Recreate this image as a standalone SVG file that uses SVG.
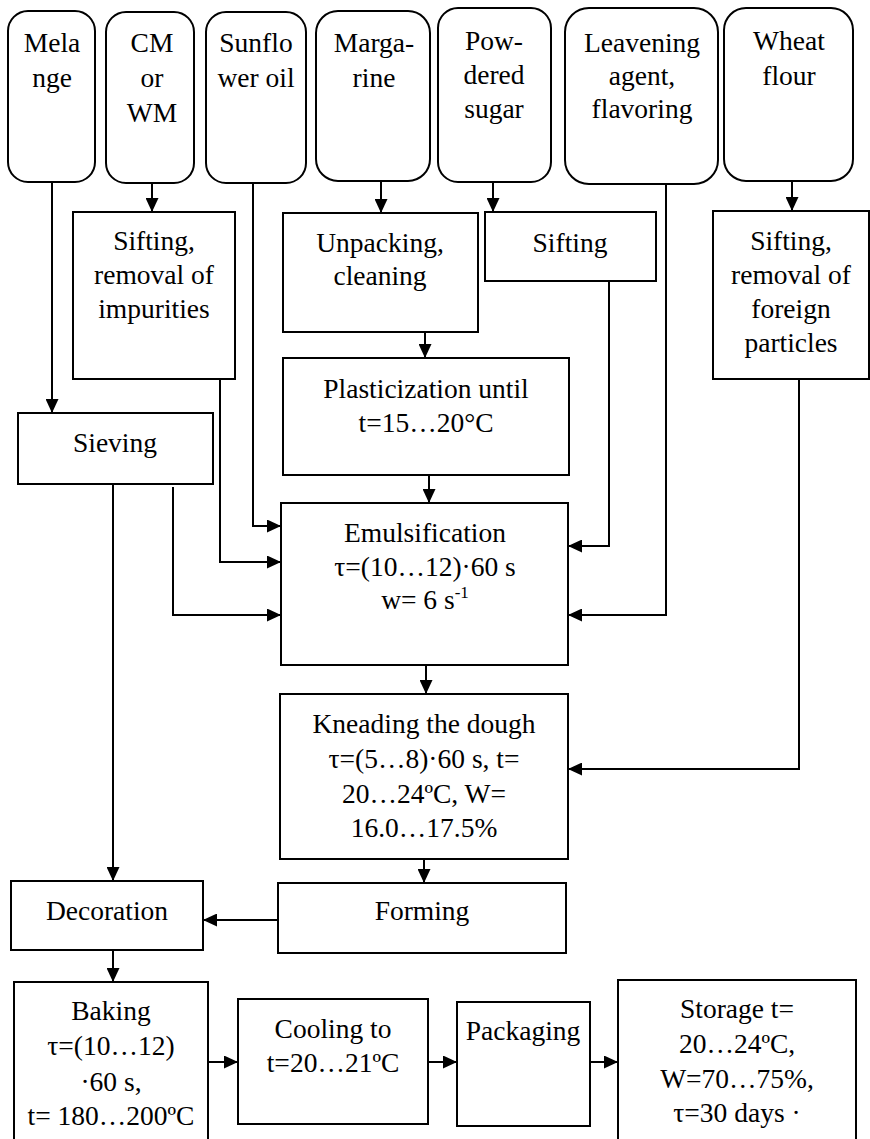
<svg xmlns="http://www.w3.org/2000/svg" width="870" height="1139" viewBox="0 0 870 1139">
<style>
.b{fill:#fff;stroke:#000;stroke-width:2}
.t{font-size:27.5px;fill:#000;text-anchor:middle}
.c{fill:none;stroke:#000;stroke-width:2;marker-end:url(#a)}
</style>
<defs>
<marker id="a" markerUnits="userSpaceOnUse" markerWidth="14" markerHeight="13" refX="14" refY="6.5" orient="auto">
<path d="M0,0 L14,6.5 L0,13 z" fill="#000"/>
</marker>
</defs>
<rect width="870" height="1139" fill="#fff"/>
<g font-family="Liberation Serif, Times New Roman, serif">
<g id="melange"><rect class="b" x="8" y="11" width="87" height="171" rx="20"/><text class="t"><tspan x="52" y="52">Mela</tspan><tspan x="52" y="87">nge</tspan></text></g>
<g id="cmwm"><rect class="b" x="106" y="12" width="88" height="171" rx="20"/><text class="t"><tspan x="152" y="52">CM</tspan><tspan x="152" y="87">or</tspan><tspan x="152" y="122">WM</tspan></text></g>
<g id="sunflower"><rect class="b" x="206" y="12" width="100" height="171" rx="20"/><text class="t"><tspan x="256" y="52">Sunflo</tspan><tspan x="256" y="87">wer oil</tspan></text></g>
<g id="margarine"><rect class="b" x="316" y="11" width="114" height="170" rx="22"/><text class="t"><tspan x="374" y="52">Marga-</tspan><tspan x="374" y="87">rine</tspan></text></g>
<g id="sugar"><rect class="b" x="438" y="8" width="113" height="174" rx="20"/><text class="t"><tspan x="494" y="50">Pow-</tspan><tspan x="494" y="84">dered</tspan><tspan x="494" y="118">sugar</tspan></text></g>
<g id="leavening"><rect class="b" x="565" y="8" width="153" height="176" rx="24"/><text class="t"><tspan x="642" y="52">Leavening</tspan><tspan x="642" y="85">agent,</tspan><tspan x="642" y="118">flavoring</tspan></text></g>
<g id="wheat"><rect class="b" x="724" y="8" width="129" height="173" rx="22"/><text class="t"><tspan x="789" y="50">Wheat</tspan><tspan x="789" y="85">flour</tspan></text></g>
<g id="sifting1"><rect class="b" x="73" y="212" width="162" height="167"/><text class="t"><tspan x="154" y="250">Sifting,</tspan><tspan x="154" y="284">removal of</tspan><tspan x="154" y="318">impurities</tspan></text></g>
<g id="unpacking"><rect class="b" x="283" y="213" width="195" height="119"/><text class="t"><tspan x="380" y="252">Unpacking,</tspan><tspan x="380" y="285">cleaning</tspan></text></g>
<g id="sifting2"><rect class="b" x="485" y="212" width="171" height="69"/><text class="t" x="570" y="252">Sifting</text></g>
<g id="sifting3"><rect class="b" x="713" y="211" width="156" height="168"/><text class="t"><tspan x="791" y="250">Sifting,</tspan><tspan x="791" y="284">removal of</tspan><tspan x="791" y="318">foreign</tspan><tspan x="791" y="352">particles</tspan></text></g>
<g id="plasticization"><rect class="b" x="283" y="358" width="286" height="117"/><text class="t"><tspan x="426" y="398">Plasticization until</tspan><tspan x="426" y="432">t=15…20°C</tspan></text></g>
<g id="sieving"><rect class="b" x="18" y="413" width="195" height="71"/><text class="t" x="115" y="452">Sieving</text></g>
<g id="emulsification"><rect class="b" x="281" y="503" width="287" height="162"/><text class="t"><tspan x="425" y="542">Emulsification</tspan><tspan x="425" y="576">τ=(10…12)·60 s</tspan><tspan x="425" y="609">w= 6 s<tspan font-size="17" dy="-11">-1</tspan></tspan></text></g>
<g id="kneading"><rect class="b" x="280" y="694" width="288" height="165"/><text class="t"><tspan x="424" y="733">Kneading the dough</tspan><tspan x="424" y="768">τ=(5…8)·60 s, t=</tspan><tspan x="424" y="803">20…24ºC, W=</tspan><tspan x="424" y="837">16.0…17.5%</tspan></text></g>
<g id="forming"><rect class="b" x="278" y="883" width="288" height="70"/><text class="t" x="422" y="920">Forming</text></g>
<g id="decoration"><rect class="b" x="11" y="881" width="192" height="69"/><text class="t" x="107" y="920">Decoration</text></g>
<g id="baking"><rect class="b" x="14" y="982" width="194" height="170"/><text class="t"><tspan x="111" y="1020">Baking</tspan><tspan x="111" y="1055">τ=(10…12)</tspan><tspan x="111" y="1091">·60 s,</tspan><tspan x="111" y="1125">t= 180…200ºC</tspan></text></g>
<g id="cooling"><rect class="b" x="238" y="999" width="190" height="125"/><text class="t"><tspan x="333" y="1038">Cooling to</tspan><tspan x="333" y="1072">t=20…21ºC</tspan></text></g>
<g id="packaging"><rect class="b" x="457" y="1002" width="133" height="124"/><text class="t" x="523" y="1040">Packaging</text></g>
<g id="storage"><rect class="b" x="618" y="980" width="238" height="170"/><text class="t"><tspan x="737" y="1018">Storage t=</tspan><tspan x="737" y="1053">20…24ºC,</tspan><tspan x="737" y="1088">W=70…75%,</tspan><tspan x="737" y="1122">τ=30 days ·</tspan></text></g>
</g>
<g id="connectors">
<path class="c" d="M52 182 V413"/>
<path class="c" d="M152 183 V212"/>
<path class="c" d="M253 183 V526 H281"/>
<path class="c" d="M220 379 V562 H281"/>
<path class="c" d="M173 487 V615 H281"/>
<path class="c" d="M381 181 V213"/>
<path class="c" d="M425 332 V358"/>
<path class="c" d="M429 475 V503"/>
<path class="c" d="M493 182 V212"/>
<path class="c" d="M609 281 V546 H568"/>
<path class="c" d="M666 184 V615 H568"/>
<path class="c" d="M792 181 V211"/>
<path class="c" d="M799 379 V769 H568"/>
<path class="c" d="M426 665 V694"/>
<path class="c" d="M424 859 V883"/>
<path class="c" d="M278 920 H203"/>
<path class="c" d="M113 484 V881"/>
<path class="c" d="M113 950 V982"/>
<path class="c" d="M208 1062 H238"/>
<path class="c" d="M428 1062 H457"/>
<path class="c" d="M590 1062 H618"/>
</g>
</svg>
